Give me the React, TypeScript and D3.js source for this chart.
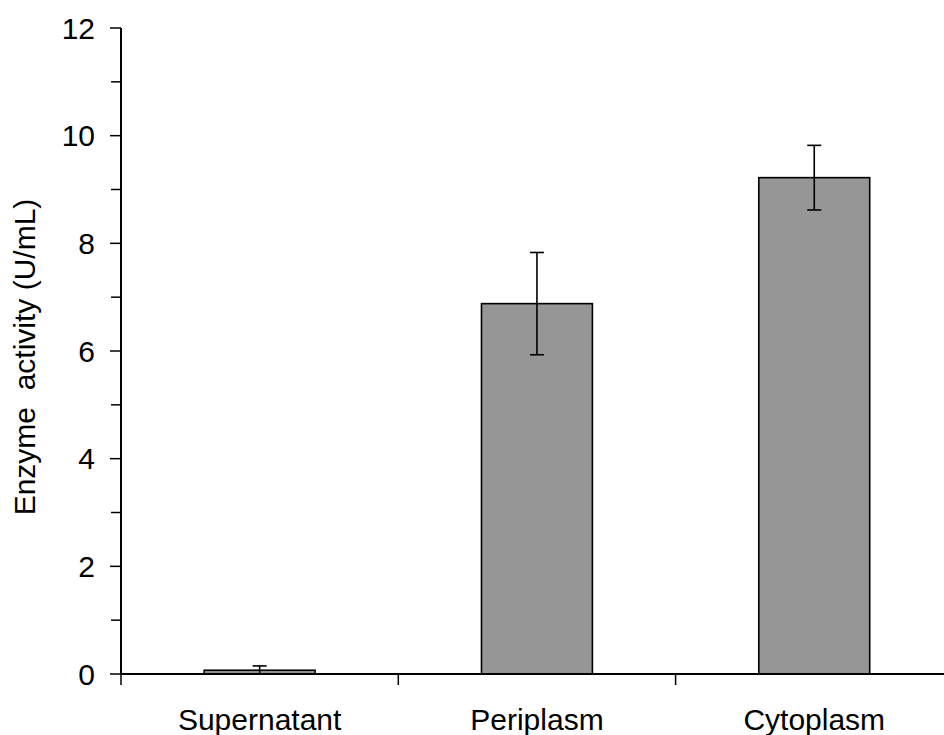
import React from "react";
import * as d3 from "d3";

const categories = ["Supernatant", "Periplasm", "Cytoplasm"];
const activity = [0.07, 6.88, 9.22];
const errors = [0.08, 0.95, 0.6];
const yTickValues = [0, 2, 4, 6, 8, 10, 12];
const yMinorValues = [1, 3, 5, 7, 9, 11];
const yLabel = "Enzyme  activity (U/mL)";

const W = 944;
const H = 735;
const FONT = "'Liberation Sans', Arial, sans-serif";
const FS = 30;

export default function App() {
  const x = d3
    .scaleBand<string>()
    .domain(categories)
    .range([121, 121 + 3 * 277.3])
    .paddingInner(0)
    .paddingOuter(0);
  const y = d3.scaleLinear().domain([0, 12]).range([674, 28]);
  const barW = x.bandwidth() * 0.4;
  const capW = 14;
  const boundaries = categories.map((c) => x(c) as number);

  return (
    <svg
      width={W}
      height={H}
      style={{ position: "absolute", left: 0, top: 0, background: "#fff" }}
      fontFamily={FONT}
    >
      {/* bars with error bars */}
      {categories.map((c, i) => {
        const cx = (x(c) as number) + x.bandwidth() / 2;
        const hi = activity[i] + errors[i];
        const lo = activity[i] - errors[i];
        return (
          <g key={c}>
            <rect
              x={cx - barW / 2}
              y={y(activity[i])}
              width={barW}
              height={y(0) - y(activity[i])}
              fill="#969696"
              stroke="#000"
              strokeWidth={1.6}
            />
            <line x1={cx} x2={cx} y1={y(hi)} y2={y(Math.max(0, lo))} stroke="#000" strokeWidth={1.6} />
            <line x1={cx - capW / 2} x2={cx + capW / 2} y1={y(hi)} y2={y(hi)} stroke="#000" strokeWidth={1.6} />
            {lo > 0 && (
              <line x1={cx - capW / 2} x2={cx + capW / 2} y1={y(lo)} y2={y(lo)} stroke="#000" strokeWidth={1.6} />
            )}
          </g>
        );
      })}

      {/* y axis */}
      <line x1={121} x2={121} y1={y(12)} y2={y(0)} stroke="#000" strokeWidth={2} />
      {yTickValues.map((v) => (
        <g key={`t${v}`}>
          <line x1={110} x2={121} y1={y(v)} y2={y(v)} stroke="#000" strokeWidth={1.5} />
          <text x={95} y={y(v)} dy="0.36em" textAnchor="end" fontSize={FS} fill="#000">
            {v}
          </text>
        </g>
      ))}
      {yMinorValues.map((v) => (
        <line key={`m${v}`} x1={111} x2={121} y1={y(v)} y2={y(v)} stroke="#000" strokeWidth={1.5} />
      ))}

      {/* x axis */}
      <line x1={121} x2={W} y1={y(0)} y2={y(0)} stroke="#000" strokeWidth={2} />
      {boundaries.map((b) => (
        <line key={`b${b}`} x1={b} x2={b} y1={y(0)} y2={y(0) + 11} stroke="#000" strokeWidth={1.5} />
      ))}
      {categories.map((c) => (
        <text
          key={`l${c}`}
          x={(x(c) as number) + x.bandwidth() / 2}
          y={730}
          textAnchor="middle"
          fontSize={FS}
          fill="#000"
        >
          {c}
        </text>
      ))}

      {/* y axis title */}
      <text
        transform="translate(35, 357) rotate(-90)"
        textAnchor="middle"
        fontSize={FS}
        fill="#000"
        style={{ whiteSpace: "pre" }}
      >
        {yLabel}
      </text>
    </svg>
  );
}
